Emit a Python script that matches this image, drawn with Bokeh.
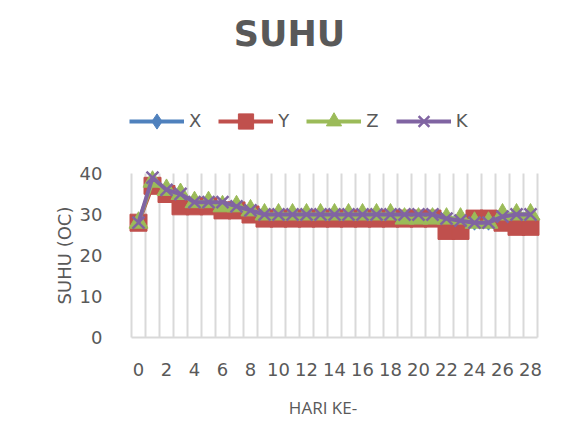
from bokeh.plotting import figure
from bokeh.models import Range1d, FixedTicker, Label, Legend, LegendItem, LinearAxis
from bokeh.embed import file_html
from bokeh.resources import INLINE

# ---- data ----
hari = [0, 1, 2, 3, 4, 5, 6, 7, 8, 9, 10, 11, 12, 13, 14, 15, 16, 17, 18, 19,
        20, 21, 22, 23, 24, 25, 26, 27, 28]
suhu_x = [28, 38, 35, 34, 33, 33, 32, 32, 31, 30, 30, 30, 30, 30, 30, 30, 30, 30, 30, 29,
          29, 29, 29, 29, 28, 28, 30, 30, 30]
suhu_y = [28, 37, 35, 32, 32, 32, 31, 31, 30, 29, 29, 29, 29, 29, 29, 29, 29, 29, 29, 29,
          29, 29, 26, 26, 29, 29, 28, 27, 27]
suhu_z = [28, 38, 36, 35, 33, 33, 32, 32, 31, 30, 30, 30, 30, 30, 30, 30, 30, 30, 30, 29,
          29, 29, 29, 29, 28, 28, 30, 30, 30]
suhu_k = [28, 39, 36, 35, 33, 33, 33, 32, 31, 30, 30, 30, 30, 30, 30, 30, 30, 30, 30, 30,
          30, 30, 29, 28.5, 28, 28, 29.5, 30, 30]
series_names = ["X", "Y", "Z", "K"]
x_ticks = [0, 2, 4, 6, 8, 10, 12, 14, 16, 18, 20, 22, 24, 26, 28]
y_ticks = [0, 10, 20, 30, 40]
title_text = "SUHU"
x_title = "HARI KE-"
y_title = "SUHU (OC)"

# ---- layout (pixels) ----
W, H = 561, 435                      # canvas
PL, PR, PT, PB = 131, 537, 173, 337  # plot-area box
TEXT = "#595959"
GRID = "#d9d9d9"
FONT = "DejaVu Sans"

x0, x1 = hari[0] - 0.5, hari[-1] + 0.5
y0, y1 = y_ticks[0], y_ticks[-1]
kx = (PR - PL) / (x1 - x0)
ky = (PB - PT) / (y1 - y0)

p = figure(frame_width=W, frame_height=H, min_border=0,
           x_range=Range1d(x0 - PL / kx, x1 + (W - PR) / kx),
           y_range=Range1d(y0 - (H - PB) / ky, y1 + PT / ky),
           x_axis_type=None, y_axis_type=None,
           output_backend="svg", toolbar_location=None)
p.outline_line_color = None
p.xgrid.visible = False
p.ygrid.visible = False

# vertical gridlines at category boundaries, spanning the value axis
bounds = [h - 0.5 for h in hari] + [hari[-1] + 0.5]
p.segment(x0=bounds, y0=[y0] * len(bounds), x1=bounds, y1=[y1] * len(bounds),
          line_color=GRID, line_width=2)

xa = LinearAxis(fixed_location=y0, bounds=(x0, x1), ticker=FixedTicker(ticks=x_ticks))
xa.axis_line_color = GRID
xa.axis_line_width = 2
xa.major_tick_line_color = None
xa.minor_tick_line_color = None
xa.major_label_standoff = 19
xa.major_label_text_font = FONT
xa.major_label_text_font_size = "18px"
xa.major_label_text_color = TEXT
p.add_layout(xa, "below")

ya = LinearAxis(fixed_location=x0, bounds=(y0, y1), ticker=FixedTicker(ticks=y_ticks))
ya.axis_line_color = None
ya.major_tick_line_color = None
ya.minor_tick_line_color = None
ya.major_label_standoff = 23
ya.major_label_text_font = FONT
ya.major_label_text_font_size = "18px"
ya.major_label_text_color = TEXT
p.add_layout(ya, "left")

styles = [
    ("#4F81BD", "diamond", 15),
    ("#C0504D", "square", 17),
    ("#9BBB59", "triangle", 19),
    ("#8064A2", "x", 17),
]
values = [suhu_x, suhu_y, suhu_z, suhu_k]
items = []
for name, vals, (col, mk, sz) in zip(series_names, values, styles):
    lr = p.line(hari, vals, line_color=col, line_width=4)
    if mk == "x":
        mr = p.scatter(hari, vals, marker=mk, size=sz, line_color=col, line_width=2.5)
    else:
        mr = p.scatter(hari, vals, marker=mk, size=sz, fill_color=col, line_color=col)
    items.append(LegendItem(label=name, renderers=[lr, mr]))

legend = Legend(items=items, orientation="horizontal", location=(129, H - 139.7),
                glyph_width=55, glyph_height=38, label_standoff=5, label_width=8,
                spacing=17, padding=0, margin=0, border_line_color=None,
                background_fill_alpha=0, label_text_font=FONT,
                label_text_font_size="18px", label_text_color=TEXT)
p.add_layout(legend)

p.add_layout(Label(x=289, y=H - 33.5, x_units="screen", y_units="screen", text=title_text,
                   text_align="center", text_baseline="middle", text_font=FONT,
                   text_font_size="35px", text_font_style="bold", text_color=TEXT))
p.add_layout(Label(x=322.5, y=H - 407, x_units="screen", y_units="screen", text=x_title,
                   text_align="center", text_baseline="middle",
                   text_font="Open Sans", text_font_size="17px", text_color=TEXT))
p.add_layout(Label(x=64, y=H - 255, x_units="screen", y_units="screen", text=y_title,
                   angle=1.5708, text_align="center", text_baseline="middle",
                   text_font=FONT, text_font_size="18px", text_color=TEXT))

open("out.html", "w").write(file_html(p, INLINE))
